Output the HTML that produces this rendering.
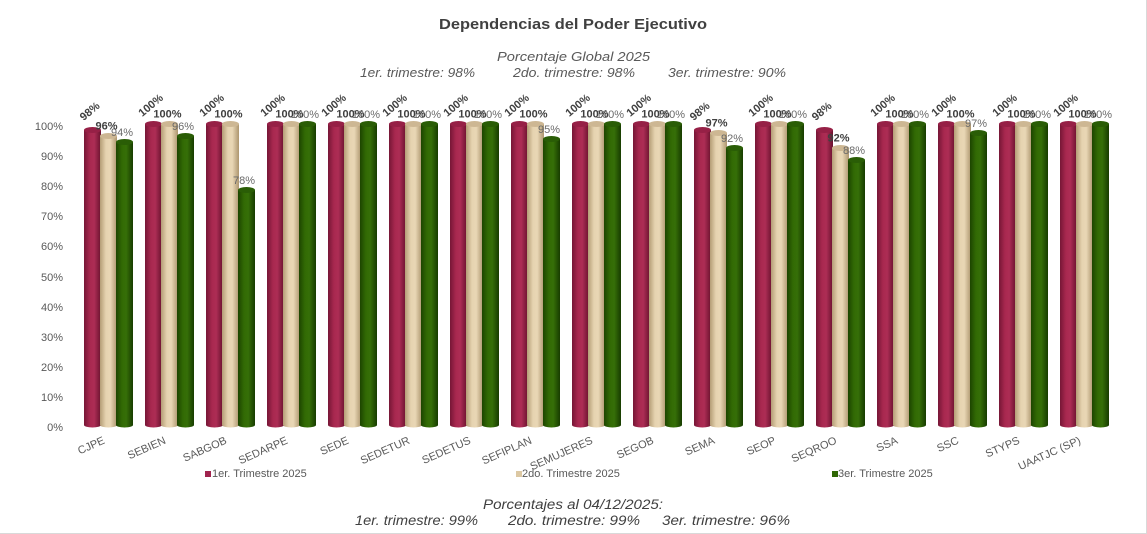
<!DOCTYPE html>
<html>
<head>
<meta charset="utf-8">
<style>
html,body{margin:0;padding:0;background:#fff;}
svg{display:block;}
text{font-family:"Liberation Sans",Arial,sans-serif;}
.ax{font-size:11px;fill:#595959;text-anchor:end;}
.cat{font-size:11px;fill:#595959;text-anchor:end;}
.lr{font-size:11px;font-weight:bold;fill:#404040;text-anchor:middle;}
.lb{font-size:11px;font-weight:bold;fill:#404040;text-anchor:middle;}
.lg{font-size:11px;fill:#6a6a6a;text-anchor:middle;}
.leg{font-size:11px;fill:#595959;}
.it{font-style:italic;fill:#595959;font-size:13px;}
.itb{font-style:italic;fill:#404040;font-size:13.5px;}
</style>
</head>
<body>
<svg width="1147" height="534" viewBox="0 0 1147 534" xmlns="http://www.w3.org/2000/svg">
<defs>
<linearGradient id="rg" x1="0" y1="0" x2="1" y2="0">
<stop offset="0" stop-color="#761636"/><stop offset="0.35" stop-color="#a8284f"/><stop offset="0.6" stop-color="#ad2d55"/><stop offset="1" stop-color="#6a122e"/>
</linearGradient>
<linearGradient id="bg" x1="0" y1="0" x2="1" y2="0">
<stop offset="0" stop-color="#b49d76"/><stop offset="0.35" stop-color="#e6d3b0"/><stop offset="0.6" stop-color="#e9d7b5"/><stop offset="1" stop-color="#ad966f"/>
</linearGradient>
<linearGradient id="gg" x1="0" y1="0" x2="1" y2="0">
<stop offset="0" stop-color="#1c4500"/><stop offset="0.35" stop-color="#326a04"/><stop offset="0.6" stop-color="#366f08"/><stop offset="1" stop-color="#173c00"/>
</linearGradient>
<g id="none"></g>
</defs>
<rect x="0" y="0" width="1147" height="534" fill="#fff"/>
<line x1="1146.5" y1="0" x2="1146.5" y2="534" stroke="#d9d9d9" stroke-width="1"/>
<line x1="0" y1="533.5" x2="1147" y2="533.5" stroke="#d9d9d9" stroke-width="1"/>

<!-- Titles -->
<text x="573" y="29" text-anchor="middle" font-size="15" font-weight="bold" fill="#404040" textLength="268" lengthAdjust="spacingAndGlyphs">Dependencias del Poder Ejecutivo</text>
<text class="it" x="573.5" y="61" text-anchor="middle" textLength="153" lengthAdjust="spacingAndGlyphs">Porcentaje Global  2025</text>
<text class="it" x="360" y="77" textLength="115" lengthAdjust="spacingAndGlyphs">1er. trimestre: 98%</text>
<text class="it" x="513" y="77" textLength="122" lengthAdjust="spacingAndGlyphs">2do. trimestre: 98%</text>
<text class="it" x="668" y="77" textLength="118" lengthAdjust="spacingAndGlyphs">3er. trimestre: 90%</text>

<!-- Y axis -->
<text class="ax" x="63" y="431">0%</text>
<text class="ax" x="63" y="401">10%</text>
<text class="ax" x="63" y="371">20%</text>
<text class="ax" x="63" y="341">30%</text>
<text class="ax" x="63" y="311">40%</text>
<text class="ax" x="63" y="281">50%</text>
<text class="ax" x="63" y="250">60%</text>
<text class="ax" x="63" y="220">70%</text>
<text class="ax" x="63" y="190">80%</text>
<text class="ax" x="63" y="160">90%</text>
<text class="ax" x="63" y="130">100%</text>

<!-- Bars -->
<!-- g0 CJPE -->
<g transform="translate(84,0)">
<rect x="0" y="130" width="17" height="295" fill="url(#rg)"/><ellipse cx="8.5" cy="425" rx="8.5" ry="2.5" fill="url(#rg)"/><ellipse cx="8.5" cy="130" rx="8.5" ry="3" fill="#962046"/>
<rect x="16" y="136" width="17" height="289" fill="url(#bg)"/><ellipse cx="24.5" cy="425" rx="8.5" ry="2.5" fill="url(#bg)"/><ellipse cx="24.5" cy="136" rx="8.5" ry="3" fill="#cdb793"/>
<rect x="32" y="142" width="17" height="283" fill="url(#gg)"/><ellipse cx="40.5" cy="425" rx="8.5" ry="2.5" fill="url(#gg)"/><ellipse cx="40.5" cy="142" rx="8.5" ry="3" fill="#2a5d06"/>
</g>
<!-- g1 SEBIEN -->
<g transform="translate(145,0)">
<rect x="0" y="124" width="17" height="301" fill="url(#rg)"/><ellipse cx="8.5" cy="425" rx="8.5" ry="2.5" fill="url(#rg)"/><ellipse cx="8.5" cy="124" rx="8.5" ry="3" fill="#962046"/>
<rect x="16" y="124" width="17" height="301" fill="url(#bg)"/><ellipse cx="24.5" cy="425" rx="8.5" ry="2.5" fill="url(#bg)"/><ellipse cx="24.5" cy="124" rx="8.5" ry="3" fill="#cdb793"/>
<rect x="32" y="136" width="17" height="289" fill="url(#gg)"/><ellipse cx="40.5" cy="425" rx="8.5" ry="2.5" fill="url(#gg)"/><ellipse cx="40.5" cy="136" rx="8.5" ry="3" fill="#2a5d06"/>
</g>
<!-- g2 SABGOB -->
<g transform="translate(206,0)">
<rect x="0" y="124" width="17" height="301" fill="url(#rg)"/><ellipse cx="8.5" cy="425" rx="8.5" ry="2.5" fill="url(#rg)"/><ellipse cx="8.5" cy="124" rx="8.5" ry="3" fill="#962046"/>
<rect x="16" y="124" width="17" height="301" fill="url(#bg)"/><ellipse cx="24.5" cy="425" rx="8.5" ry="2.5" fill="url(#bg)"/><ellipse cx="24.5" cy="124" rx="8.5" ry="3" fill="#cdb793"/>
<rect x="32" y="190" width="17" height="235" fill="url(#gg)"/><ellipse cx="40.5" cy="425" rx="8.5" ry="2.5" fill="url(#gg)"/><ellipse cx="40.5" cy="190" rx="8.5" ry="3" fill="#2a5d06"/>
</g>
<!-- g3 SEDARPE -->
<g transform="translate(267,0)">
<rect x="0" y="124" width="17" height="301" fill="url(#rg)"/><ellipse cx="8.5" cy="425" rx="8.5" ry="2.5" fill="url(#rg)"/><ellipse cx="8.5" cy="124" rx="8.5" ry="3" fill="#962046"/>
<rect x="16" y="124" width="17" height="301" fill="url(#bg)"/><ellipse cx="24.5" cy="425" rx="8.5" ry="2.5" fill="url(#bg)"/><ellipse cx="24.5" cy="124" rx="8.5" ry="3" fill="#cdb793"/>
<rect x="32" y="124" width="17" height="301" fill="url(#gg)"/><ellipse cx="40.5" cy="425" rx="8.5" ry="2.5" fill="url(#gg)"/><ellipse cx="40.5" cy="124" rx="8.5" ry="3" fill="#2a5d06"/>
</g>
<!-- g4 SEDE -->
<g transform="translate(328,0)">
<rect x="0" y="124" width="17" height="301" fill="url(#rg)"/><ellipse cx="8.5" cy="425" rx="8.5" ry="2.5" fill="url(#rg)"/><ellipse cx="8.5" cy="124" rx="8.5" ry="3" fill="#962046"/>
<rect x="16" y="124" width="17" height="301" fill="url(#bg)"/><ellipse cx="24.5" cy="425" rx="8.5" ry="2.5" fill="url(#bg)"/><ellipse cx="24.5" cy="124" rx="8.5" ry="3" fill="#cdb793"/>
<rect x="32" y="124" width="17" height="301" fill="url(#gg)"/><ellipse cx="40.5" cy="425" rx="8.5" ry="2.5" fill="url(#gg)"/><ellipse cx="40.5" cy="124" rx="8.5" ry="3" fill="#2a5d06"/>
</g>
<!-- g5 SEDETUR -->
<g transform="translate(389,0)">
<rect x="0" y="124" width="17" height="301" fill="url(#rg)"/><ellipse cx="8.5" cy="425" rx="8.5" ry="2.5" fill="url(#rg)"/><ellipse cx="8.5" cy="124" rx="8.5" ry="3" fill="#962046"/>
<rect x="16" y="124" width="17" height="301" fill="url(#bg)"/><ellipse cx="24.5" cy="425" rx="8.5" ry="2.5" fill="url(#bg)"/><ellipse cx="24.5" cy="124" rx="8.5" ry="3" fill="#cdb793"/>
<rect x="32" y="124" width="17" height="301" fill="url(#gg)"/><ellipse cx="40.5" cy="425" rx="8.5" ry="2.5" fill="url(#gg)"/><ellipse cx="40.5" cy="124" rx="8.5" ry="3" fill="#2a5d06"/>
</g>
<!-- g6 SEDETUS -->
<g transform="translate(450,0)">
<rect x="0" y="124" width="17" height="301" fill="url(#rg)"/><ellipse cx="8.5" cy="425" rx="8.5" ry="2.5" fill="url(#rg)"/><ellipse cx="8.5" cy="124" rx="8.5" ry="3" fill="#962046"/>
<rect x="16" y="124" width="17" height="301" fill="url(#bg)"/><ellipse cx="24.5" cy="425" rx="8.5" ry="2.5" fill="url(#bg)"/><ellipse cx="24.5" cy="124" rx="8.5" ry="3" fill="#cdb793"/>
<rect x="32" y="124" width="17" height="301" fill="url(#gg)"/><ellipse cx="40.5" cy="425" rx="8.5" ry="2.5" fill="url(#gg)"/><ellipse cx="40.5" cy="124" rx="8.5" ry="3" fill="#2a5d06"/>
</g>
<!-- g7 SEFIPLAN -->
<g transform="translate(511,0)">
<rect x="0" y="124" width="17" height="301" fill="url(#rg)"/><ellipse cx="8.5" cy="425" rx="8.5" ry="2.5" fill="url(#rg)"/><ellipse cx="8.5" cy="124" rx="8.5" ry="3" fill="#962046"/>
<rect x="16" y="124" width="17" height="301" fill="url(#bg)"/><ellipse cx="24.5" cy="425" rx="8.5" ry="2.5" fill="url(#bg)"/><ellipse cx="24.5" cy="124" rx="8.5" ry="3" fill="#cdb793"/>
<rect x="32" y="139" width="17" height="286" fill="url(#gg)"/><ellipse cx="40.5" cy="425" rx="8.5" ry="2.5" fill="url(#gg)"/><ellipse cx="40.5" cy="139" rx="8.5" ry="3" fill="#2a5d06"/>
</g>
<!-- g8 SEMUJERES -->
<g transform="translate(572,0)">
<rect x="0" y="124" width="17" height="301" fill="url(#rg)"/><ellipse cx="8.5" cy="425" rx="8.5" ry="2.5" fill="url(#rg)"/><ellipse cx="8.5" cy="124" rx="8.5" ry="3" fill="#962046"/>
<rect x="16" y="124" width="17" height="301" fill="url(#bg)"/><ellipse cx="24.5" cy="425" rx="8.5" ry="2.5" fill="url(#bg)"/><ellipse cx="24.5" cy="124" rx="8.5" ry="3" fill="#cdb793"/>
<rect x="32" y="124" width="17" height="301" fill="url(#gg)"/><ellipse cx="40.5" cy="425" rx="8.5" ry="2.5" fill="url(#gg)"/><ellipse cx="40.5" cy="124" rx="8.5" ry="3" fill="#2a5d06"/>
</g>
<!-- g9 SEGOB -->
<g transform="translate(633,0)">
<rect x="0" y="124" width="17" height="301" fill="url(#rg)"/><ellipse cx="8.5" cy="425" rx="8.5" ry="2.5" fill="url(#rg)"/><ellipse cx="8.5" cy="124" rx="8.5" ry="3" fill="#962046"/>
<rect x="16" y="124" width="17" height="301" fill="url(#bg)"/><ellipse cx="24.5" cy="425" rx="8.5" ry="2.5" fill="url(#bg)"/><ellipse cx="24.5" cy="124" rx="8.5" ry="3" fill="#cdb793"/>
<rect x="32" y="124" width="17" height="301" fill="url(#gg)"/><ellipse cx="40.5" cy="425" rx="8.5" ry="2.5" fill="url(#gg)"/><ellipse cx="40.5" cy="124" rx="8.5" ry="3" fill="#2a5d06"/>
</g>
<!-- g10 SEMA -->
<g transform="translate(694,0)">
<rect x="0" y="130" width="17" height="295" fill="url(#rg)"/><ellipse cx="8.5" cy="425" rx="8.5" ry="2.5" fill="url(#rg)"/><ellipse cx="8.5" cy="130" rx="8.5" ry="3" fill="#962046"/>
<rect x="16" y="133" width="17" height="292" fill="url(#bg)"/><ellipse cx="24.5" cy="425" rx="8.5" ry="2.5" fill="url(#bg)"/><ellipse cx="24.5" cy="133" rx="8.5" ry="3" fill="#cdb793"/>
<rect x="32" y="148" width="17" height="277" fill="url(#gg)"/><ellipse cx="40.5" cy="425" rx="8.5" ry="2.5" fill="url(#gg)"/><ellipse cx="40.5" cy="148" rx="8.5" ry="3" fill="#2a5d06"/>
</g>
<!-- g11 SEOP -->
<g transform="translate(755,0)">
<rect x="0" y="124" width="17" height="301" fill="url(#rg)"/><ellipse cx="8.5" cy="425" rx="8.5" ry="2.5" fill="url(#rg)"/><ellipse cx="8.5" cy="124" rx="8.5" ry="3" fill="#962046"/>
<rect x="16" y="124" width="17" height="301" fill="url(#bg)"/><ellipse cx="24.5" cy="425" rx="8.5" ry="2.5" fill="url(#bg)"/><ellipse cx="24.5" cy="124" rx="8.5" ry="3" fill="#cdb793"/>
<rect x="32" y="124" width="17" height="301" fill="url(#gg)"/><ellipse cx="40.5" cy="425" rx="8.5" ry="2.5" fill="url(#gg)"/><ellipse cx="40.5" cy="124" rx="8.5" ry="3" fill="#2a5d06"/>
</g>
<!-- g12 SEQROO -->
<g transform="translate(816,0)">
<rect x="0" y="130" width="17" height="295" fill="url(#rg)"/><ellipse cx="8.5" cy="425" rx="8.5" ry="2.5" fill="url(#rg)"/><ellipse cx="8.5" cy="130" rx="8.5" ry="3" fill="#962046"/>
<rect x="16" y="148" width="17" height="277" fill="url(#bg)"/><ellipse cx="24.5" cy="425" rx="8.5" ry="2.5" fill="url(#bg)"/><ellipse cx="24.5" cy="148" rx="8.5" ry="3" fill="#cdb793"/>
<rect x="32" y="160" width="17" height="265" fill="url(#gg)"/><ellipse cx="40.5" cy="425" rx="8.5" ry="2.5" fill="url(#gg)"/><ellipse cx="40.5" cy="160" rx="8.5" ry="3" fill="#2a5d06"/>
</g>
<!-- g13 SSA -->
<g transform="translate(877,0)">
<rect x="0" y="124" width="17" height="301" fill="url(#rg)"/><ellipse cx="8.5" cy="425" rx="8.5" ry="2.5" fill="url(#rg)"/><ellipse cx="8.5" cy="124" rx="8.5" ry="3" fill="#962046"/>
<rect x="16" y="124" width="17" height="301" fill="url(#bg)"/><ellipse cx="24.5" cy="425" rx="8.5" ry="2.5" fill="url(#bg)"/><ellipse cx="24.5" cy="124" rx="8.5" ry="3" fill="#cdb793"/>
<rect x="32" y="124" width="17" height="301" fill="url(#gg)"/><ellipse cx="40.5" cy="425" rx="8.5" ry="2.5" fill="url(#gg)"/><ellipse cx="40.5" cy="124" rx="8.5" ry="3" fill="#2a5d06"/>
</g>
<!-- g14 SSC -->
<g transform="translate(938,0)">
<rect x="0" y="124" width="17" height="301" fill="url(#rg)"/><ellipse cx="8.5" cy="425" rx="8.5" ry="2.5" fill="url(#rg)"/><ellipse cx="8.5" cy="124" rx="8.5" ry="3" fill="#962046"/>
<rect x="16" y="124" width="17" height="301" fill="url(#bg)"/><ellipse cx="24.5" cy="425" rx="8.5" ry="2.5" fill="url(#bg)"/><ellipse cx="24.5" cy="124" rx="8.5" ry="3" fill="#cdb793"/>
<rect x="32" y="133" width="17" height="292" fill="url(#gg)"/><ellipse cx="40.5" cy="425" rx="8.5" ry="2.5" fill="url(#gg)"/><ellipse cx="40.5" cy="133" rx="8.5" ry="3" fill="#2a5d06"/>
</g>
<!-- g15 STYPS -->
<g transform="translate(999,0)">
<rect x="0" y="124" width="17" height="301" fill="url(#rg)"/><ellipse cx="8.5" cy="425" rx="8.5" ry="2.5" fill="url(#rg)"/><ellipse cx="8.5" cy="124" rx="8.5" ry="3" fill="#962046"/>
<rect x="16" y="124" width="17" height="301" fill="url(#bg)"/><ellipse cx="24.5" cy="425" rx="8.5" ry="2.5" fill="url(#bg)"/><ellipse cx="24.5" cy="124" rx="8.5" ry="3" fill="#cdb793"/>
<rect x="32" y="124" width="17" height="301" fill="url(#gg)"/><ellipse cx="40.5" cy="425" rx="8.5" ry="2.5" fill="url(#gg)"/><ellipse cx="40.5" cy="124" rx="8.5" ry="3" fill="#2a5d06"/>
</g>
<!-- g16 UAATJC -->
<g transform="translate(1060,0)">
<rect x="0" y="124" width="17" height="301" fill="url(#rg)"/><ellipse cx="8.5" cy="425" rx="8.5" ry="2.5" fill="url(#rg)"/><ellipse cx="8.5" cy="124" rx="8.5" ry="3" fill="#962046"/>
<rect x="16" y="124" width="17" height="301" fill="url(#bg)"/><ellipse cx="24.5" cy="425" rx="8.5" ry="2.5" fill="url(#bg)"/><ellipse cx="24.5" cy="124" rx="8.5" ry="3" fill="#cdb793"/>
<rect x="32" y="124" width="17" height="301" fill="url(#gg)"/><ellipse cx="40.5" cy="425" rx="8.5" ry="2.5" fill="url(#gg)"/><ellipse cx="40.5" cy="124" rx="8.5" ry="3" fill="#2a5d06"/>
</g>

<!-- Green labels (drawn first, under bold ones) -->
<text class="lg" x="122" y="136">94%</text>
<text class="lg" x="183" y="130">96%</text>
<text class="lg" x="244" y="184">78%</text>
<text class="lg" x="305" y="118">100%</text>
<text class="lg" x="366" y="118">100%</text>
<text class="lg" x="427" y="118">100%</text>
<text class="lg" x="488" y="118">100%</text>
<text class="lg" x="549" y="133">95%</text>
<text class="lg" x="610" y="118">100%</text>
<text class="lg" x="671" y="118">100%</text>
<text class="lg" x="732" y="142">92%</text>
<text class="lg" x="793" y="118">100%</text>
<text class="lg" x="854" y="154">88%</text>
<text class="lg" x="915" y="118">100%</text>
<text class="lg" x="976" y="127">97%</text>
<text class="lg" x="1037" y="118">100%</text>
<text class="lg" x="1098" y="118">100%</text>

<!-- Beige labels -->
<text class="lb" x="106.5" y="129.5">96%</text>
<text class="lb" x="167.5" y="117.5">100%</text>
<text class="lb" x="228.5" y="117.5">100%</text>
<text class="lb" x="289.5" y="117.5">100%</text>
<text class="lb" x="350.5" y="117.5">100%</text>
<text class="lb" x="411.5" y="117.5">100%</text>
<text class="lb" x="472.5" y="117.5">100%</text>
<text class="lb" x="533.5" y="117.5">100%</text>
<text class="lb" x="594.5" y="117.5">100%</text>
<text class="lb" x="655.5" y="117.5">100%</text>
<text class="lb" x="716.5" y="126.5">97%</text>
<text class="lb" x="777.5" y="117.5">100%</text>
<text class="lb" x="838.5" y="141.5">92%</text>
<text class="lb" x="899.5" y="117.5">100%</text>
<text class="lb" x="960.5" y="117.5">100%</text>
<text class="lb" x="1021.5" y="117.5">100%</text>
<text class="lb" x="1082.5" y="117.5">100%</text>

<!-- Red labels (rotated) -->
<text class="lr" transform="translate(89.5,111) rotate(-40)" y="4">98%</text>
<text class="lr" transform="translate(150.5,105) rotate(-40)" y="4">100%</text>
<text class="lr" transform="translate(211.5,105) rotate(-40)" y="4">100%</text>
<text class="lr" transform="translate(272.5,105) rotate(-40)" y="4">100%</text>
<text class="lr" transform="translate(333.5,105) rotate(-40)" y="4">100%</text>
<text class="lr" transform="translate(394.5,105) rotate(-40)" y="4">100%</text>
<text class="lr" transform="translate(455.5,105) rotate(-40)" y="4">100%</text>
<text class="lr" transform="translate(516.5,105) rotate(-40)" y="4">100%</text>
<text class="lr" transform="translate(577.5,105) rotate(-40)" y="4">100%</text>
<text class="lr" transform="translate(638.5,105) rotate(-40)" y="4">100%</text>
<text class="lr" transform="translate(699.5,111) rotate(-40)" y="4">98%</text>
<text class="lr" transform="translate(760.5,105) rotate(-40)" y="4">100%</text>
<text class="lr" transform="translate(821.5,111) rotate(-40)" y="4">98%</text>
<text class="lr" transform="translate(882.5,105) rotate(-40)" y="4">100%</text>
<text class="lr" transform="translate(943.5,105) rotate(-40)" y="4">100%</text>
<text class="lr" transform="translate(1004.5,105) rotate(-40)" y="4">100%</text>
<text class="lr" transform="translate(1065.5,105) rotate(-40)" y="4">100%</text>

<!-- Category labels -->
<text class="cat" transform="translate(105.5,443) rotate(-24)">CJPE</text>
<text class="cat" transform="translate(166.5,443) rotate(-24)">SEBIEN</text>
<text class="cat" transform="translate(227.5,443) rotate(-24)">SABGOB</text>
<text class="cat" transform="translate(288.5,443) rotate(-24)">SEDARPE</text>
<text class="cat" transform="translate(349.5,443) rotate(-24)">SEDE</text>
<text class="cat" transform="translate(410.5,443) rotate(-24)">SEDETUR</text>
<text class="cat" transform="translate(471.5,443) rotate(-24)">SEDETUS</text>
<text class="cat" transform="translate(532.5,443) rotate(-24)">SEFIPLAN</text>
<text class="cat" transform="translate(593.5,443) rotate(-24)">SEMUJERES</text>
<text class="cat" transform="translate(654.5,443) rotate(-24)">SEGOB</text>
<text class="cat" transform="translate(715.5,443) rotate(-24)">SEMA</text>
<text class="cat" transform="translate(776.5,443) rotate(-24)">SEOP</text>
<text class="cat" transform="translate(837.5,443) rotate(-24)">SEQROO</text>
<text class="cat" transform="translate(898.5,443) rotate(-24)">SSA</text>
<text class="cat" transform="translate(959.5,443) rotate(-24)">SSC</text>
<text class="cat" transform="translate(1020.5,443) rotate(-24)">STYPS</text>
<text class="cat" transform="translate(1081.5,443) rotate(-24)">UAATJC (SP)</text>

<!-- Legend -->
<rect x="205" y="471" width="6" height="6" fill="#a0234e"/>
<text class="leg" x="212" y="477">1er. Trimestre 2025</text>
<rect x="516" y="471" width="6" height="6" fill="#dcc8a3"/>
<text class="leg" x="522" y="477">2do. Trimestre 2025</text>
<rect x="832" y="471" width="6" height="6" fill="#2f6604"/>
<text class="leg" x="838" y="477">3er. Trimestre 2025</text>

<!-- Bottom notes -->
<text class="itb" x="483" y="509" textLength="180" lengthAdjust="spacingAndGlyphs">Porcentajes al 04/12/2025:</text>
<text class="itb" x="355" y="525" textLength="123" lengthAdjust="spacingAndGlyphs">1er. trimestre: 99%</text>
<text class="itb" x="508" y="525" textLength="132" lengthAdjust="spacingAndGlyphs">2do. trimestre: 99%</text>
<text class="itb" x="662" y="525" textLength="128" lengthAdjust="spacingAndGlyphs">3er. trimestre: 96%</text>
</svg>
</body>
</html>
